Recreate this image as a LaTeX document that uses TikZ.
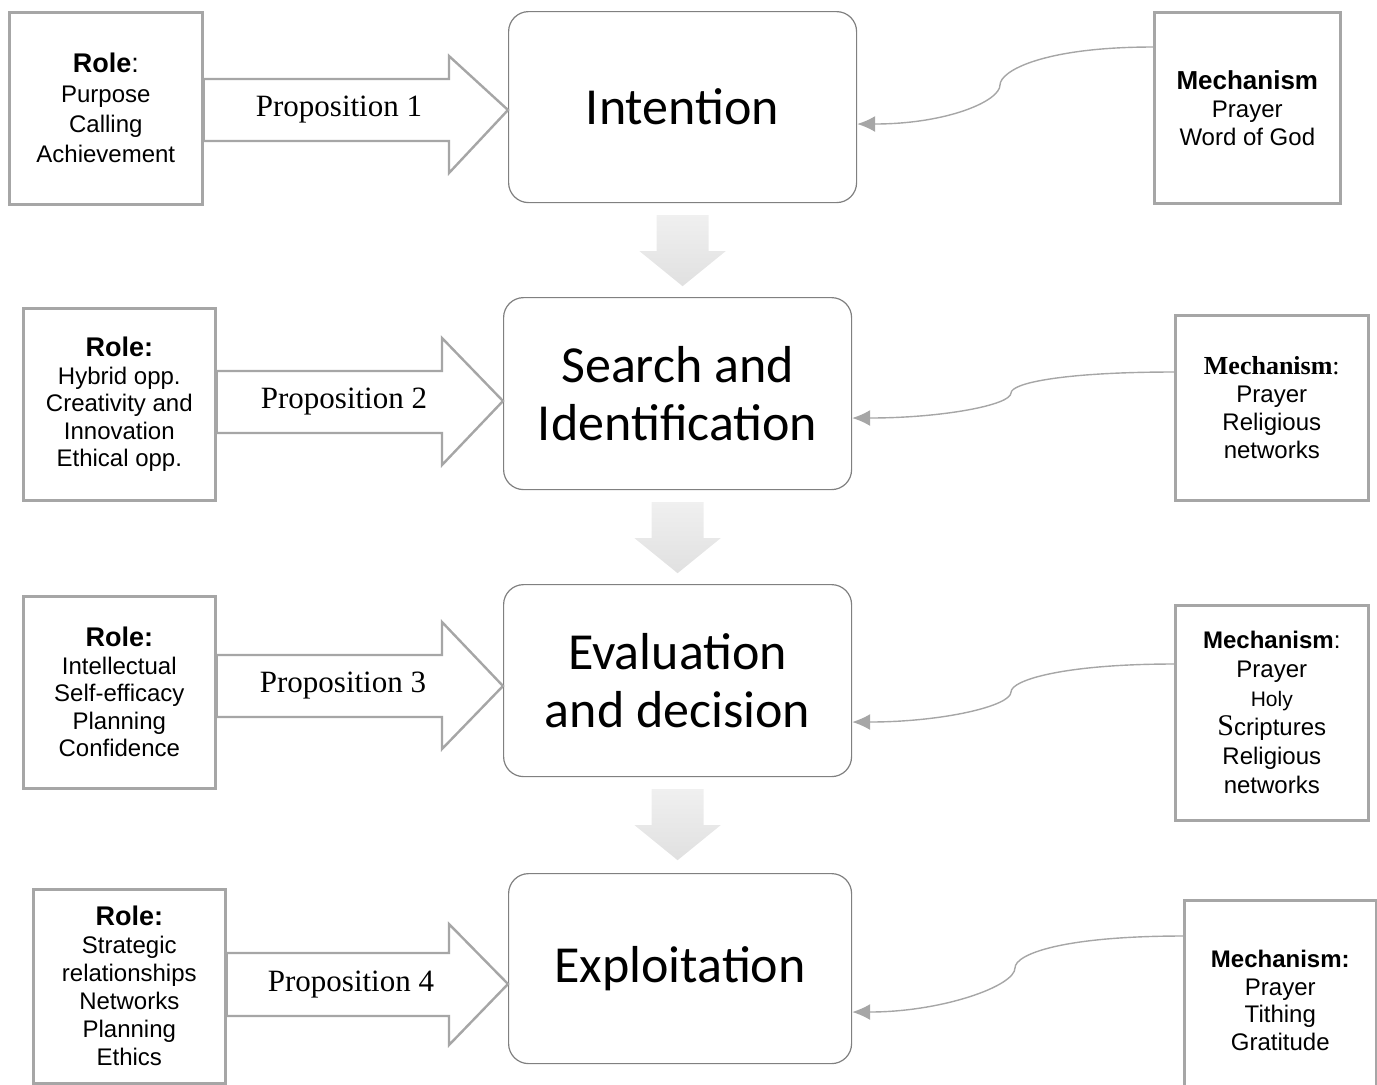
\documentclass[tikz,border=0pt]{standalone}
\usepackage{fontspec}
\setmainfont{Liberation Serif}
\setsansfont{Liberation Sans}
\newfontfamily\calibri{Carlito}
\usetikzlibrary{arrows.meta,calc}

\begin{document}
\begin{tikzpicture}[x=0.5pt,y=-0.5pt]
\tikzset{rolebox/.style = {shape=rectangle,draw=black!35,line width=1.3pt,fill=white,anchor=north west,align=center,inner sep=2pt,font=\sffamily\fontsize{12}{13.75}\selectfont}}
\tikzset{stage/.style = {shape=rectangle,rounded corners=10pt,draw=black!50,line width=0.6pt,anchor=north west,align=center,font=\calibri\fontsize{26}{29}\selectfont}}
\tikzset{fat/.style = {draw=black!35,line width=1.2pt,fill=white,line join=miter}}
\tikzset{prop/.style = {font=\rmfamily\fontsize{15.5}{18}\selectfont}}
\tikzset{flow/.style = {top color=black!6,bottom color=black!12,draw=none}}
\tikzset{link/.style = {draw=black!35,line width=0.7pt,-{Latex[length=9pt,width=8pt]}}}
\clip (0,0) rectangle (1377,1084);
% stages
\node[stage,minimum width=174pt,minimum height=95.5pt] (m1) at (508,11)  {Intention};
\node[stage,minimum width=174pt,minimum height=96pt]   (m2) at (503,297) {Search and\\Identification};
\node[stage,minimum width=174pt,minimum height=96pt]   (m3) at (503,584) {Evaluation\\and decision};
\node[stage,minimum width=171.5pt,minimum height=95pt] (m4) at (508,873) {Exploitation};
% roles
\node[rolebox,minimum width=96.5pt,minimum height=96pt,font=\sffamily\fontsize{12}{15}\selectfont] (r1) at (8,11)
  {{\fontsize{13.5}{15}\selectfont\textbf{Role}:}\\Purpose\\Calling\\Achievement};
\node[rolebox,minimum width=96pt,minimum height=96pt] (r2) at (22,307)
  {{\fontsize{13.5}{15}\selectfont\textbf{Role:}}\\Hybrid opp.\\Creativity and\\Innovation\\Ethical opp.};
\node[rolebox,minimum width=96pt,minimum height=96pt] (r3) at (22,595)
  {{\fontsize{13.5}{15}\selectfont\textbf{Role:}}\\Intellectual\\Self-efficacy\\Planning\\Confidence};
\node[rolebox,minimum width=96pt,minimum height=97pt,font=\sffamily\fontsize{12}{14}\selectfont] (r4) at (32,888)
  {{\fontsize{13.5}{15}\selectfont\textbf{Role:}}\\Strategic\\relationships\\Networks\\Planning\\Ethics};
% mechanisms
\node[rolebox,minimum width=93pt,minimum height=95.5pt,font=\sffamily\fontsize{12}{14}\selectfont] (k1) at (1153,11)
  {{\fontsize{13}{15}\selectfont\textbf{Mechanism}}\\Prayer\\Word of God};
\node[rolebox,minimum width=96.5pt,minimum height=92.5pt,font=\sffamily\fontsize{12}{14}\selectfont] (k2) at (1174,314)
  {{\rmfamily\bfseries\fontsize{13}{15}\selectfont Mechanism}{\rmfamily\fontsize{13}{15}\selectfont :}\\Prayer\\Religious\\networks};
\node[rolebox,minimum width=96.5pt,minimum height=107.5pt,font=\sffamily\fontsize{12}{14.5}\selectfont] (k3) at (1174,604)
  {\textbf{Mechanism}:\\Prayer\\{\fontsize{10.5}{12}\selectfont Holy}\\{\rmfamily\fontsize{15}{15}\selectfont S}criptures\\Religious\\networks};
\node[rolebox,minimum width=96pt,minimum height=100pt,font=\sffamily\fontsize{12}{13.75}\selectfont] (k4) at (1183,899)
  {\textbf{Mechanism:}\\Prayer\\Tithing\\Gratitude};
% propositions
\draw[fat] (r1.east |- 0,79) -- (449,79) -- (449,56) -- (m1.west |- 0,110) -- (449,173) -- (449,141) -- (r1.east |- 0,141) -- cycle;
\draw[fat] (r2.east |- 0,371) -- (442,371) -- (442,338) -- (m2.west |- 0,401) -- (442,465) -- (442,433) -- (r2.east |- 0,433) -- cycle;
\draw[fat] (r3.east |- 0,655) -- (442,655) -- (442,622) -- (m3.west |- 0,686) -- (442,749) -- (442,717) -- (r3.east |- 0,717) -- cycle;
\draw[fat] (r4.east |- 0,953) -- (449,953) -- (449,924) -- (m4.west |- 0,984) -- (449,1045) -- (449,1016) -- (r4.east |- 0,1016) -- cycle;
\node[prop] (p1) at (339,110) {Proposition 1};
\node[prop] (p2) at (344,402) {Proposition 2};
\node[prop] (p3) at (343,686) {Proposition 3};
\node[prop] (p4) at (351,985) {Proposition 4};
% flow between stages
\shade[flow] ($(m1.south)+(-26,12)$) -- ++(52,0) -- ++(0,36) -- ++(17,0) -- ++(-43,35) -- ++(-43,-35) -- ++(17,0) -- cycle;
\shade[flow] ($(m2.south)+(-26,12)$) -- ++(52,0) -- ++(0,36) -- ++(17,0) -- ++(-43,35) -- ++(-43,-35) -- ++(17,0) -- cycle;
\shade[flow] ($(m3.south)+(-26,12)$) -- ++(52,0) -- ++(0,36) -- ++(17,0) -- ++(-43,35) -- ++(-43,-35) -- ++(17,0) -- cycle;
% mechanism links
\draw[link] (k1.west |- 0,47) .. controls +(-110,0) and +(0,-14) .. (1000,85) .. controls +(0,16) and +(90,0) .. (m1.east |- 0,124);
\draw[link] (k2.west |- 0,372) .. controls +(-110,0) and +(0,-10) .. (1011,393) .. controls +(0,12) and +(90,0) .. (m2.east |- 0,418);
\draw[link] (k3.west |- 0,664) .. controls +(-110,0) and +(0,-12) .. (1011,692) .. controls +(0,14) and +(90,0) .. (m3.east |- 0,722);
\draw[link] (k4.west |- 0,936) .. controls +(-120,0) and +(0,-14) .. (1015,968) .. controls +(0,18) and +(90,0) .. (m4.east |- 0,1012);
\end{tikzpicture}
\end{document}
